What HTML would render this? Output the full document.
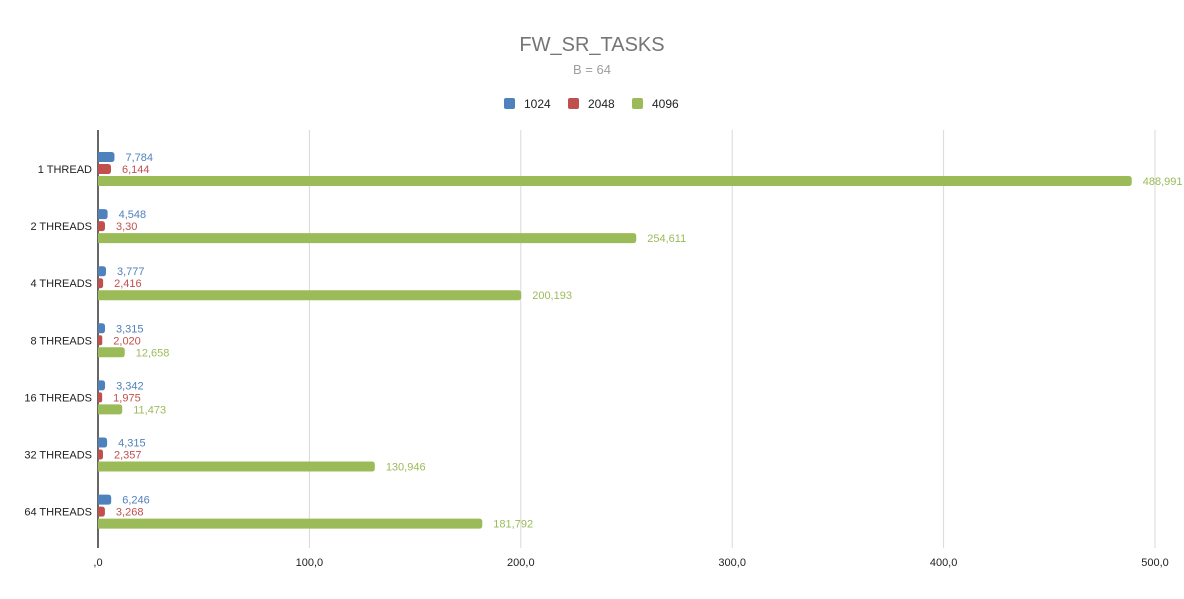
<!DOCTYPE html>
<html><head><meta charset="utf-8"><style>
html,body{margin:0;padding:0;background:#fff;}
svg{display:block;font-family:"Liberation Sans",Arial,sans-serif;}
</style></head><body>
<svg id="chart" width="1184" height="599" viewBox="0 0 1184 599">
<rect width="1184" height="599" fill="#fff"/>
<text x="592" y="51" text-anchor="middle" font-size="20" fill="#757575">FW_SR_TASKS</text>
<text x="592" y="74" text-anchor="middle" font-size="13" fill="#9e9e9e">B = 64</text>
<g id="legend"></g>
<g id="grid"></g>
<g id="bars"></g>
<g id="ylabels"></g>
<g id="xlabels"></g>
</svg>
<script>
const categories = ["1 THREAD","2 THREADS","4 THREADS","8 THREADS","16 THREADS","32 THREADS","64 THREADS"];
const seriesNames = ["1024","2048","4096"];
const s1024 = [7.784,4.548,3.777,3.315,3.342,4.315,6.246];
const s2048 = [6.144,3.30,2.416,2.020,1.975,2.357,3.268];
const s4096 = [488.991,254.611,200.193,12.658,11.473,130.946,181.792];
const s1024Labels = ["7,784","4,548","3,777","3,315","3,342","4,315","6,246"];
const s2048Labels = ["6,144","3,30","2,416","2,020","1,975","2,357","3,268"];
const s4096Labels = ["488,991","254,611","200,193","12,658","11,473","130,946","181,792"];
const xTicks = [0,100,200,300,400,500];
const xTickLabels = [",0","100,0","200,0","300,0","400,0","500,0"];

const colors = ["#4f81bd","#c0504d","#9bbb59"];
const series = [s1024,s2048,s4096];
const labels = [s1024Labels,s2048Labels,s4096Labels];
const NS = "http://www.w3.org/2000/svg";
const X0 = 98, X1 = 1155, Y0 = 130, Y1 = 548;
const xMax = 500;
const x = v => X0 + v / xMax * (X1 - X0);
const rowY = i => 169 + i * 57.1;
function mk(tag, attrs, parent){const e=document.createElementNS(NS,tag);for(const k in attrs)e.setAttribute(k,attrs[k]);parent.appendChild(e);return e;}

const grid = document.getElementById('grid');
xTicks.forEach((t,i)=>{
  if(t===0) return;
  const l = mk('line',{x1:x(t),x2:x(t),y1:Y0,y2:Y1,stroke:'#d9d9d9','stroke-width':1},grid);
  
  
});
const xl = document.getElementById('xlabels');
xTicks.forEach((t,i)=>{
  const tx = mk('text',{x:x(t),y:566,'text-anchor':'middle','font-size':11,fill:'#222'},xl);
  tx.textContent = xTickLabels[i];
  
  
});
const axis = mk('line',{x1:X0,x2:X0,y1:Y0,y2:Y1,stroke:'#333','stroke-width':1.5},grid);



const bars = document.getElementById('bars');
const yl = document.getElementById('ylabels');
const BH = 10, r = 3;
categories.forEach((c,i)=>{
  const cy = rowY(i);
  const t = mk('text',{x:92,y:cy+4,'text-anchor':'end','font-size':11,fill:'#222'},yl);
  t.textContent = c;
  
  
  series.forEach((s,k)=>{
    const by = cy - 12 + k*12 - BH/2;
    const xe = x(s[i]);
    const w = xe - X0;
    const rr = Math.min(r, w/2);
    const p = mk('path',{d:`M${X0},${by} H${xe-rr} Q${xe},${by} ${xe},${by+rr} V${by+BH-rr} Q${xe},${by+BH} ${xe-rr},${by+BH} H${X0} Z`,fill:colors[k]},bars);
    
    
    const lt = mk('text',{x:xe+11,y:by+BH-1,'font-size':11,fill:colors[k]},bars);
    lt.textContent = labels[k][i];
    
    
  });
});

const lg = document.getElementById('legend');
const lx = [504,568,632];
seriesNames.forEach((n,k)=>{
  const rct = mk('rect',{x:lx[k],y:98,width:11,height:11,rx:2,fill:colors[k]},lg);
  
  
  const tt = mk('text',{x:lx[k]+20,y:108,'font-size':12,fill:'#222'},lg);
  tt.textContent = n;
  
  
});
</script>
</body></html>
